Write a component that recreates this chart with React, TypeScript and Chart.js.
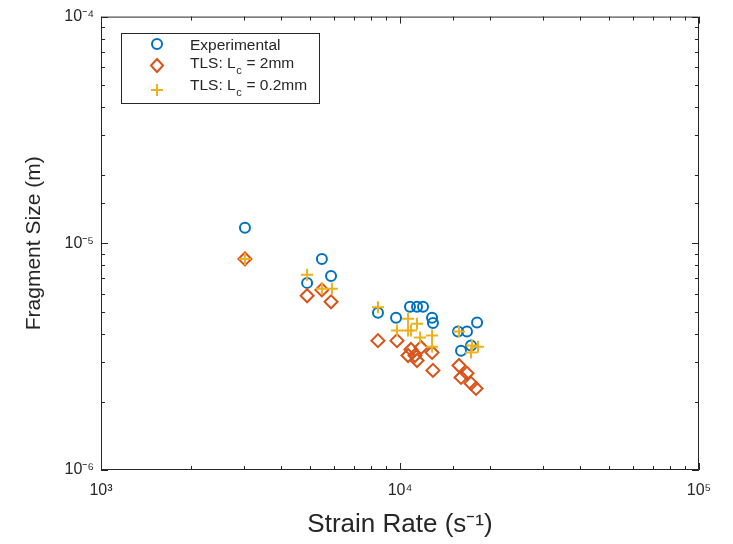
import React, { useEffect, useRef } from 'react';
import { Chart, registerables } from 'chart.js';

Chart.register(...registerables);

// ---- data (strain rate in s^-1, fragment size in m) ----
const expStrainRate = [3030, 4890, 5480, 5880, 8440, 9700, 10800, 11400, 11940, 12800, 12890, 15630, 16750, 18100, 16000, 17280];
const expSize = [1.17e-5, 6.69e-6, 8.53e-6, 7.18e-6, 4.94e-6, 4.7e-6, 5.25e-6, 5.25e-6, 5.25e-6, 4.7e-6, 4.45e-6, 4.08e-6, 4.08e-6, 4.47e-6, 3.36e-6, 3.54e-6];

const tls2StrainRate = [3030, 4890, 5480, 5880, 8440, 9770, 10640, 10880, 11220, 11400, 11760, 12800, 12890, 15750, 16000, 16750, 17280, 17960];
const tls2Size = [8.53e-6, 5.87e-6, 6.23e-6, 5.52e-6, 3.72e-6, 3.72e-6, 3.2e-6, 3.4e-6, 3.2e-6, 3.04e-6, 3.47e-6, 3.3e-6, 2.75e-6, 2.89e-6, 2.56e-6, 2.67e-6, 2.41e-6, 2.29e-6];

const tls02StrainRate = [3030, 4890, 5480, 5920, 8440, 9770, 10640, 10640, 10880, 11400, 11670, 12800, 12800, 15750, 17410, 18240, 17280];
const tls02Size = [8.53e-6, 7.26e-6, 6.3e-6, 6.3e-6, 5.22e-6, 4.12e-6, 4.65e-6, 4.12e-6, 4.12e-6, 4.42e-6, 3.84e-6, 3.92e-6, 3.5e-6, 4.08e-6, 3.54e-6, 3.5e-6, 3.3e-6];

const seriesLabels = ['Experimental', 'TLS: L_c = 2mm', 'TLS: L_c = 0.2mm'];
const seriesColors = ['#0072BD', '#D95319', '#EDB120'];

const xMin = 1e3;
const xMax = 1e5;
const yMin = 1e-6;
const yMax = 1e-4;
const xTitle = 'Strain Rate (s⁻¹)';
const yTitle = 'Fragment Size (m)';

const FONT = '"Liberation Sans", Arial, Helvetica, sans-serif';
const TEXT = '#262626';

const SUP: Record<string, string> = { '0': '⁰', '1': '¹', '2': '²', '3': '³', '4': '⁴', '5': '⁵', '6': '⁶', '7': '⁷', '8': '⁸', '9': '⁹', '-': '⁻' };
const sup = (s: string) => s.split('').map((c) => SUP[c] || c).join('');

const isDecade = (v: number) => {
  const l = Math.log10(v);
  return Math.abs(l - Math.round(l)) < 1e-6;
};
const decadeLabel = (v: number) => (isDecade(v) ? '10' + sup(String(Math.round(Math.log10(v)))) : '');

const toPoints = (xs: number[], ys: number[]) => xs.map((x, i) => ({ x, y: ys[i] }));

const framePlugin = {
  id: 'frameTicks',
  afterDraw(chart: any) {
    const { ctx, chartArea: a, scales } = chart;
    const xs = scales.x;
    const ys = scales.y;
    ctx.save();
    ctx.strokeStyle = TEXT;
    ctx.lineWidth = 1;
    ctx.beginPath();
    ctx.rect(a.left + 0.5, a.top + 0.5, a.right - a.left - 1, a.bottom - a.top - 1);
    ctx.stroke();
    ctx.beginPath();
    xs.ticks.forEach((t: any) => {
      const px = Math.round(xs.getPixelForValue(t.value)) + 0.5;
      const len = isDecade(t.value) ? 7 : 4;
      ctx.moveTo(px, a.bottom);
      ctx.lineTo(px, a.bottom - len);
      ctx.moveTo(px, a.top);
      ctx.lineTo(px, a.top + len);
    });
    ys.ticks.forEach((t: any) => {
      const py = Math.round(ys.getPixelForValue(t.value)) + 0.5;
      const len = isDecade(t.value) ? 7 : 4;
      ctx.moveTo(a.left, py);
      ctx.lineTo(a.left + len, py);
      ctx.moveTo(a.right, py);
      ctx.lineTo(a.right - len, py);
    });
    ctx.stroke();
    ctx.restore();
  },
};

const drawMarker = (ctx: CanvasRenderingContext2D, kind: number, x: number, y: number, color: string) => {
  ctx.save();
  ctx.strokeStyle = color;
  ctx.lineWidth = 2;
  ctx.beginPath();
  if (kind === 0) {
    ctx.arc(x, y, 5, 0, Math.PI * 2);
  } else if (kind === 1) {
    ctx.moveTo(x, y - 6.5);
    ctx.lineTo(x + 6, y);
    ctx.lineTo(x, y + 6.5);
    ctx.lineTo(x - 6, y);
    ctx.closePath();
  } else {
    ctx.moveTo(x - 6, y);
    ctx.lineTo(x + 6, y);
    ctx.moveTo(x, y - 6);
    ctx.lineTo(x, y + 6);
  }
  ctx.stroke();
  ctx.restore();
};

const legendPlugin = {
  id: 'insideLegend',
  afterDraw(chart: any) {
    const { ctx } = chart;
    const box = { left: 121, top: 33, right: 320, bottom: 104 };
    ctx.save();
    ctx.fillStyle = '#ffffff';
    ctx.fillRect(box.left, box.top, box.right - box.left, box.bottom - box.top);
    ctx.strokeStyle = TEXT;
    ctx.lineWidth = 1;
    ctx.strokeRect(box.left + 0.5, box.top + 0.5, box.right - box.left - 1, box.bottom - box.top - 1);
    const markerX = 157;
    const markerY = [44, 65.5, 90];
    const baseY = [49.5, 67.5, 89.5];
    const textX = 190;
    seriesLabels.forEach((label, i) => {
      drawMarker(ctx, i, markerX, markerY[i], seriesColors[i]);
      ctx.fillStyle = TEXT;
      ctx.textBaseline = 'alphabetic';
      ctx.textAlign = 'left';
      const parts = label.split('_');
      let x = textX;
      ctx.font = `15.5px ${FONT}`;
      ctx.fillText(parts[0], x, baseY[i]);
      x += ctx.measureText(parts[0]).width;
      if (parts.length > 1) {
        const subChar = parts[1].charAt(0);
        const rest = parts[1].slice(1);
        ctx.font = `11px ${FONT}`;
        ctx.fillText(subChar, x + 0.5, baseY[i] + 6);
        x += ctx.measureText(subChar).width + 1;
        ctx.font = `15.5px ${FONT}`;
        ctx.fillText(rest, x, baseY[i]);
      }
    });
    ctx.restore();
  },
};

export default function App() {
  const ref = useRef<HTMLCanvasElement | null>(null);

  useEffect(() => {
    document.body.style.margin = '0';
    const canvas = ref.current;
    if (!canvas) return;
    const chart = new Chart(canvas, {
      type: 'scatter',
      data: {
        datasets: [
          {
            label: seriesLabels[0],
            data: toPoints(expStrainRate, expSize),
            pointStyle: 'circle',
            radius: 5,
            borderWidth: 2,
            borderColor: seriesColors[0],
            backgroundColor: 'rgba(0,0,0,0)',
            order: 3,
          },
          {
            label: seriesLabels[1],
            data: toPoints(tls2StrainRate, tls2Size),
            pointStyle: 'rectRot',
            radius: 6.5,
            borderWidth: 2,
            borderColor: seriesColors[1],
            backgroundColor: 'rgba(0,0,0,0)',
            order: 2,
          },
          {
            label: seriesLabels[2],
            data: toPoints(tls02StrainRate, tls02Size),
            pointStyle: 'cross',
            radius: 6,
            borderWidth: 2,
            borderColor: seriesColors[2],
            backgroundColor: seriesColors[2],
            order: 1,
          },
        ],
      },
      options: {
        responsive: false,
        animation: false,
        devicePixelRatio: 1,
        layout: { padding: { top: 14, right: 34, left: 0, bottom: 0 } },
        plugins: {
          legend: { display: false },
          tooltip: { enabled: false },
        },
        scales: {
          x: {
            type: 'logarithmic',
            min: xMin,
            max: xMax,
            grid: { display: false, drawTicks: false },
            border: { display: false },
            ticks: {
              autoSkip: false,
              maxRotation: 0,
              padding: 11,
              color: TEXT,
              font: { family: FONT, size: 16 },
              callback: (v: any) => decadeLabel(Number(v)),
            },
            title: {
              display: true,
              text: xTitle,
              color: TEXT,
              font: { family: FONT, size: 26 },
              padding: { top: 0, bottom: 4 },
            },
            afterFit: (s: any) => {
              s.height = 74;
            },
          },
          y: {
            type: 'logarithmic',
            min: yMin,
            max: yMax,
            grid: { display: false, drawTicks: false },
            border: { display: false },
            ticks: {
              autoSkip: false,
              padding: 7,
              color: TEXT,
              font: { family: FONT, size: 16 },
              callback: (v: any) => decadeLabel(Number(v)),
            },
            title: {
              display: true,
              text: yTitle,
              color: TEXT,
              font: { family: FONT, size: 21 },
              padding: { top: 22, bottom: 0 },
            },
            afterFit: (s: any) => {
              s.width = 101;
            },
          },
        },
      },
      plugins: [framePlugin, legendPlugin],
    } as any);
    return () => chart.destroy();
  }, []);

  return (
    <div style={{ width: 733, height: 544, background: '#ffffff' }}>
      <canvas ref={ref} width={733} height={544} style={{ display: 'block', width: 733, height: 544 }} />
    </div>
  );
}
